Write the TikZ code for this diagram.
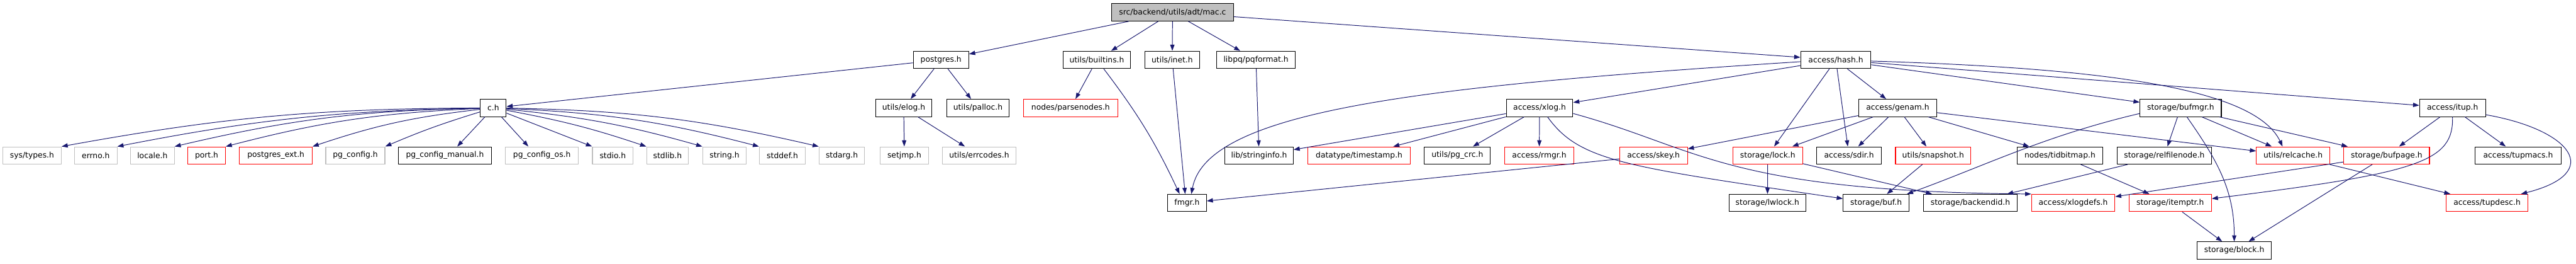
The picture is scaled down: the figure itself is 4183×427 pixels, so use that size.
\documentclass[tikz,border=0pt]{standalone}
\usepackage{fontspec}
\setmainfont{DejaVu Sans}
\usepackage{tikz}
\usetikzlibrary{arrows.meta}
\usepackage{xcolor}
\definecolor{doxblue}{HTML}{191970}
\definecolor{doxred}{HTML}{FF0000}
\definecolor{doxgrey}{HTML}{BFBFBF}

\begin{document}
\begin{tikzpicture}[x=1pt, y=1pt]
\tikzset{filebox/.style={draw=black, fill=white, line width=1.1pt, minimum height=28pt, inner sep=0pt, font=\fontsize{12.6}{15}\selectfont}}
\tikzset{greybox/.style={filebox, draw=doxgrey}}
\tikzset{redbox/.style={filebox, draw=doxred}}
\tikzset{incl/.style={draw=doxblue, line width=1pt, -{Triangle[length=10pt,width=7pt]}}}
\useasboundingbox (0,0) rectangle (4183,-427);
% top level
\node[filebox, fill=doxgrey, minimum width=198pt] (mac) at (1904,-20) {src/backend/utils/adt/mac.c};
\node[filebox, minimum width=90pt] (postgres) at (1528,-97) {postgres.h};
\node[filebox, minimum width=110pt] (builtins) at (1781,-97) {utils/builtins.h};
\node[filebox, minimum width=89pt] (inet) at (1903.5,-97) {utils/inet.h};
\node[filebox, minimum width=127pt] (pqformat) at (2039.5,-97) {libpq/pqformat.h};
\node[filebox, minimum width=114pt] (hash) at (2981,-97) {access/hash.h};
% second level
\node[filebox, minimum width=42pt] (ch) at (801,-175) {c.h};
\node[filebox, minimum width=91pt] (elog) at (1467.5,-175) {utils/elog.h};
\node[filebox, minimum width=102pt] (palloc) at (1588,-175) {utils/palloc.h};
\node[redbox, minimum width=153pt] (parsenodes) at (1738.5,-175) {nodes/parsenodes.h};
\node[filebox, minimum width=108pt] (xlog) at (2500,-175) {access/xlog.h};
\node[filebox, minimum width=127pt] (genam) at (3081.5,-175) {access/genam.h};
\node[filebox, minimum width=132pt] (bufmgr) at (3541,-175) {storage/bufmgr.h};
\node[filebox, minimum width=107pt] (itup) at (3982.5,-175) {access/itup.h};
% third level
\node[greybox, minimum width=95pt] (systypes) at (52,-252) {sys/types.h};
\node[greybox, minimum width=69pt] (errno) at (155.5,-252) {errno.h};
\node[greybox, minimum width=71pt] (locale) at (247.5,-252) {locale.h};
\node[redbox, minimum width=61pt] (port) at (335.5,-252) {port.h};
\node[redbox, minimum width=118pt] (postgresext) at (448,-252) {postgres\_ext.h};
\node[greybox, minimum width=96pt] (pgconfig) at (577,-252) {pg\_config.h};
\node[filebox, minimum width=151pt] (pgconfigmanual) at (722.5,-252) {pg\_config\_manual.h};
\node[greybox, minimum width=118pt] (pgconfigos) at (880,-252) {pg\_config\_os.h};
\node[greybox, minimum width=66pt] (stdio) at (995,-252) {stdio.h};
\node[greybox, minimum width=68pt] (stdlib) at (1084,-252) {stdlib.h};
\node[greybox, minimum width=71pt] (string) at (1176.5,-252) {string.h};
\node[greybox, minimum width=75pt] (stddef) at (1270.5,-252) {stddef.h};
\node[greybox, minimum width=74pt] (stdarg) at (1367,-252) {stdarg.h};
\node[greybox, minimum width=79pt] (setjmp) at (1468.5,-252) {setjmp.h};
\node[greybox, minimum width=120pt] (errcodes) at (1590,-252) {utils/errcodes.h};
\node[filebox, minimum width=111pt] (stringinfo) at (2044.5,-252) {lib/stringinfo.h};
\node[redbox, minimum width=166pt] (timestamp) at (2207,-252) {datatype/timestamp.h};
\node[filebox, minimum width=107pt] (pgcrc) at (2366.5,-252) {utils/pg\_crc.h};
\node[redbox, minimum width=113pt] (rmgr) at (2499.5,-252) {access/rmgr.h};
\node[redbox, minimum width=110pt] (skey) at (2685,-252) {access/skey.h};
\node[redbox, minimum width=113pt] (lock) at (2870.5,-252) {storage/lock.h};
\node[filebox, minimum width=105pt] (sdir) at (3002.5,-252) {access/sdir.h};
\node[redbox, minimum width=122pt] (snapshot) at (3139,-252) {utils/snapshot.h};
\node[filebox, minimum width=138pt] (tidbitmap) at (3345,-252) {nodes/tidbitmap.h};
\node[filebox, minimum width=153pt] (relfilenode) at (3514.5,-252) {storage/relfilenode.h};
\node[redbox, minimum width=119pt] (relcache) at (3723.5,-252) {utils/relcache.h};
\node[redbox, minimum width=139pt] (bufpage) at (3875.5,-252) {storage/bufpage.h};
\node[filebox, minimum width=140pt] (tupmacs) at (4089,-252) {access/tupmacs.h};
% fourth and fifth level
\node[filebox, minimum width=63pt] (fmgr) at (1927.5,-329) {fmgr.h};
\node[filebox, minimum width=124pt] (lwlock) at (2870,-329) {storage/lwlock.h};
\node[filebox, minimum width=107pt] (buf) at (3046.5,-329) {storage/buf.h};
\node[filebox, minimum width=153pt] (backendid) at (3199.5,-329) {storage/backendid.h};
\node[redbox, minimum width=135pt] (xlogdefs) at (3366.5,-329) {access/xlogdefs.h};
\node[redbox, minimum width=134pt] (itemptr) at (3524,-329) {storage/itemptr.h};
\node[redbox, minimum width=133pt] (tupdesc) at (4038.5,-329) {access/tupdesc.h};
\node[filebox, minimum width=120pt] (block) at (3628,-406) {storage/block.h};
% includes of mac.c
\draw[incl] (mac) -- (postgres);
\draw[incl] (mac) -- (builtins);
\draw[incl] (mac) -- (inet);
\draw[incl] (mac) -- (pqformat);
\draw[incl] (mac) -- (hash);
% postgres.h and c.h
\draw[incl] (postgres) -- (ch);
\draw[incl] (postgres) -- (elog);
\draw[incl] (postgres) -- (palloc);
\draw[incl] (ch) to[bend right=5] (systypes.north east);
\draw[incl] (ch) to[bend right=5] (errno.north east);
\draw[incl] (ch) to[bend right=6] (locale.north east);
\draw[incl] (ch) to[bend right=6] (port.north east);
\draw[incl] (ch) to[bend right=6] (postgresext.north east);
\draw[incl] (ch) to[bend right=3] (pgconfig.north east);
\draw[incl] (ch) -- ([xshift=20pt]pgconfigmanual.north);
\draw[incl] (ch) -- ([xshift=-22pt]pgconfigos.north);
\draw[incl] (ch) -- (stdio.north west);
\draw[incl] (ch) to[bend left=4] (stdlib.north west);
\draw[incl] (ch) to[bend left=5] (string.north west);
\draw[incl] (ch) to[bend left=6] (stddef.north west);
\draw[incl] (ch) to[bend left=6] (stdarg.north west);
\draw[incl] (elog) -- (setjmp);
\draw[incl] (elog) -- (errcodes);
% utils and fmgr
\draw[incl] (builtins) -- (parsenodes);
\draw[incl] (builtins) to[bend left=6] ([xshift=-12pt]fmgr.north);
\draw[incl] (inet) -- ([xshift=-3pt]fmgr.north);
\draw[incl] (pqformat) -- (stringinfo);
\draw[incl] ([yshift=-3pt]hash.west) .. controls (2300,-140) and (1960,-180) .. ([xshift=7pt]fmgr.north);
\draw[incl] (skey) -- (fmgr);
% access/hash.h
\draw[incl] (hash) -- (xlog);
\draw[incl] (hash) -- (lock);
\draw[incl] (hash) -- (sdir);
\draw[incl] (hash) -- (genam);
\draw[incl] (hash) -- (bufmgr);
\draw[incl] ([yshift=-2pt]hash.east) .. controls (3400,-110) and (3660,-140) .. ([xshift=-17pt]relcache.north);
\draw[incl] (hash) -- (itup);
% access/xlog.h
\draw[incl] (xlog) -- (stringinfo);
\draw[incl] (xlog) -- (timestamp);
\draw[incl] (xlog) -- (pgcrc);
\draw[incl] (xlog) -- (rmgr);
\draw[incl] ([xshift=13pt]xlog.south) .. controls (2565,-262) and (2640,-270) .. ([yshift=7pt]buf.west);
\draw[incl] ([yshift=-9pt]xlog.east) .. controls (2760,-240) and (2800,-310) .. (xlogdefs.north west);
% access/genam.h
\draw[incl] (genam) -- (skey);
\draw[incl] (genam) -- (lock);
\draw[incl] (genam) -- (sdir);
\draw[incl] (genam) -- (snapshot);
\draw[incl] (genam) -- (tidbitmap);
\draw[incl] (genam) -- (relcache);
\draw[incl] (lock) -- (lwlock);
\draw[incl] (lock) -- (backendid);
\draw[incl] (snapshot) -- (buf);
% storage/bufmgr.h
\draw[incl] ([yshift=-9pt]bufmgr.west) .. controls (3320,-220) and (3220,-270) .. ([xshift=-4pt]buf.north east);
\draw[incl] (bufmgr) -- (relfilenode);
\draw[incl] (bufmgr) -- (relcache);
\draw[incl] (bufmgr) -- (bufpage);
\draw[incl] (bufmgr) to[out=-55,in=90] (block);
\draw[incl] (relfilenode) -- (backendid);
\draw[incl] (tidbitmap) -- (itemptr);
\draw[incl] (bufpage) -- (xlogdefs);
\draw[incl] (bufpage) -- (block);
\draw[incl] (itemptr) -- (block);
\draw[incl] (relcache) -- (tupdesc);
% access/itup.h
\draw[incl] (itup) -- (bufpage);
\draw[incl] (itup) -- (tupmacs);
\draw[incl] (itup.south) .. controls (3984,-262) and (3930,-280) .. ([yshift=7pt]itemptr.east);
\draw[incl] ([yshift=-11pt]itup.east) .. controls (4175,-210) and (4230,-280) .. ([xshift=-12pt]tupdesc.north east);
\end{tikzpicture}
\end{document}
